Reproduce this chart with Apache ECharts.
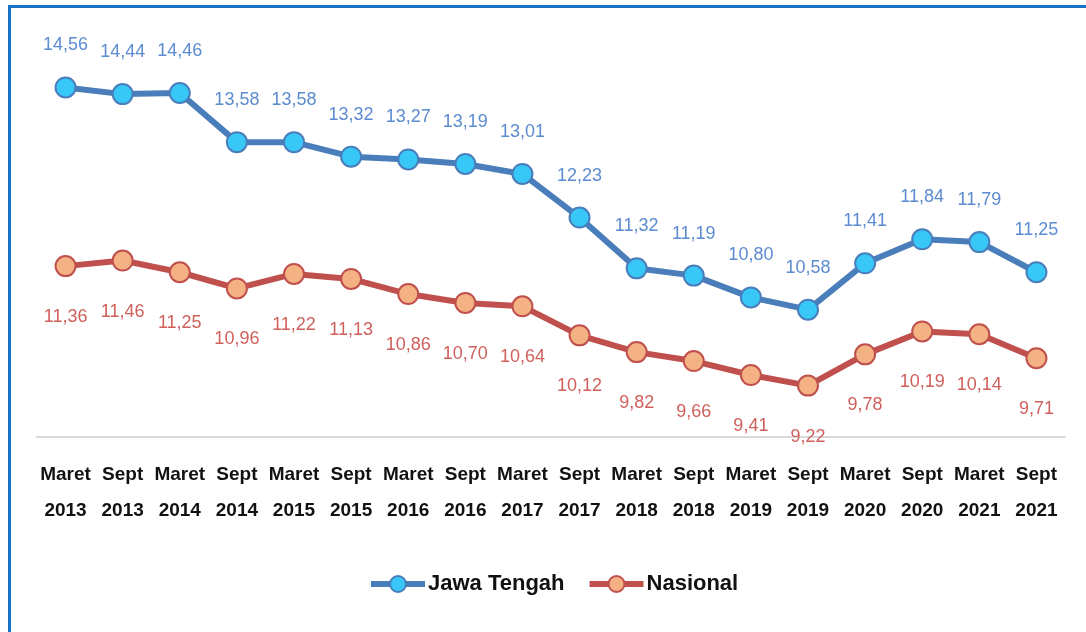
<!DOCTYPE html>
<html>
<head>
<meta charset="utf-8">
<script src="https://cdn.jsdelivr.net/npm/echarts@6/dist/echarts.min.js"></script>
<style>
html,body{margin:0;padding:0;background:#fff;}
#frame{position:absolute;left:8px;top:5px;width:1100px;height:640px;border-top:3px solid #1a73c7;border-left:3px solid #1a73c7;}
#chart{position:absolute;left:0;top:0;width:1086px;height:632px;}
</style>
</head>
<body>
<div id="frame"></div>
<div id="chart"></div>
<script>
const categories = ["Maret\n2013","Sept\n2013","Maret\n2014","Sept\n2014","Maret\n2015","Sept\n2015","Maret\n2016","Sept\n2016","Maret\n2017","Sept\n2017","Maret\n2018","Sept\n2018","Maret\n2019","Sept\n2019","Maret\n2020","Sept\n2020","Maret\n2021","Sept\n2021"];
const jawaTengah = [14.56,14.44,14.46,13.58,13.58,13.32,13.27,13.19,13.01,12.23,11.32,11.19,10.80,10.58,11.41,11.84,11.79,11.25];
const nasional = [11.36,11.46,11.25,10.96,11.22,11.13,10.86,10.70,10.64,10.12,9.82,9.66,9.41,9.22,9.78,10.19,10.14,9.71];
const seriesNames = ["Jawa Tengah","Nasional"];

const fmt = p => p.value.toFixed(2).replace('.', ',');
const FONT = "'Liberation Sans',sans-serif";

const chart = echarts.init(document.getElementById('chart'));
chart.setOption({
  animation: false,
  grid: {left: 37, right: 21, top: 7, bottom: 195},
  legend: {
    bottom: 32, left: 363, itemGap: 22, itemWidth: 54, itemHeight: 20,
    lineStyle: {width: 6},
    textStyle: {fontFamily: FONT, fontWeight: 'bold', fontSize: 22, color: '#111', padding: [0, 0, 0, -2]},
    data: seriesNames
  },
  xAxis: {
    type: 'category', data: categories, boundaryGap: true,
    axisLine: {lineStyle: {color: '#d9d9d9', width: 2}},
    axisTick: {show: false},
    axisLabel: {interval: 0, margin: 20, fontFamily: FONT, fontWeight: 'bold', fontSize: 19, color: '#111', lineHeight: 36}
  },
  yAxis: {type: 'value', min: 8.3, max: 16, show: false, splitLine: {show: false}},
  series: [
    {
      name: seriesNames[0], type: 'line', data: jawaTengah,
      symbol: 'circle', symbolSize: 20,
      lineStyle: {color: '#4a7ebb', width: 6},
      itemStyle: {color: '#38c8f8', borderColor: '#4a7ebb', borderWidth: 2},
      label: {show: true, position: 'top', distance: 22, formatter: fmt, fontFamily: FONT, fontSize: 18, color: '#5b8bd0'}
    },
    {
      name: seriesNames[1], type: 'line', data: nasional,
      symbol: 'circle', symbolSize: 20,
      lineStyle: {color: '#c0504d', width: 6},
      itemStyle: {color: '#f4b183', borderColor: '#c0504d', borderWidth: 2},
      label: {show: true, position: 'bottom', distance: 31, formatter: fmt, fontFamily: FONT, fontSize: 18, color: '#d0605c'}
    }
  ]
});
</script>
</body>
</html>
